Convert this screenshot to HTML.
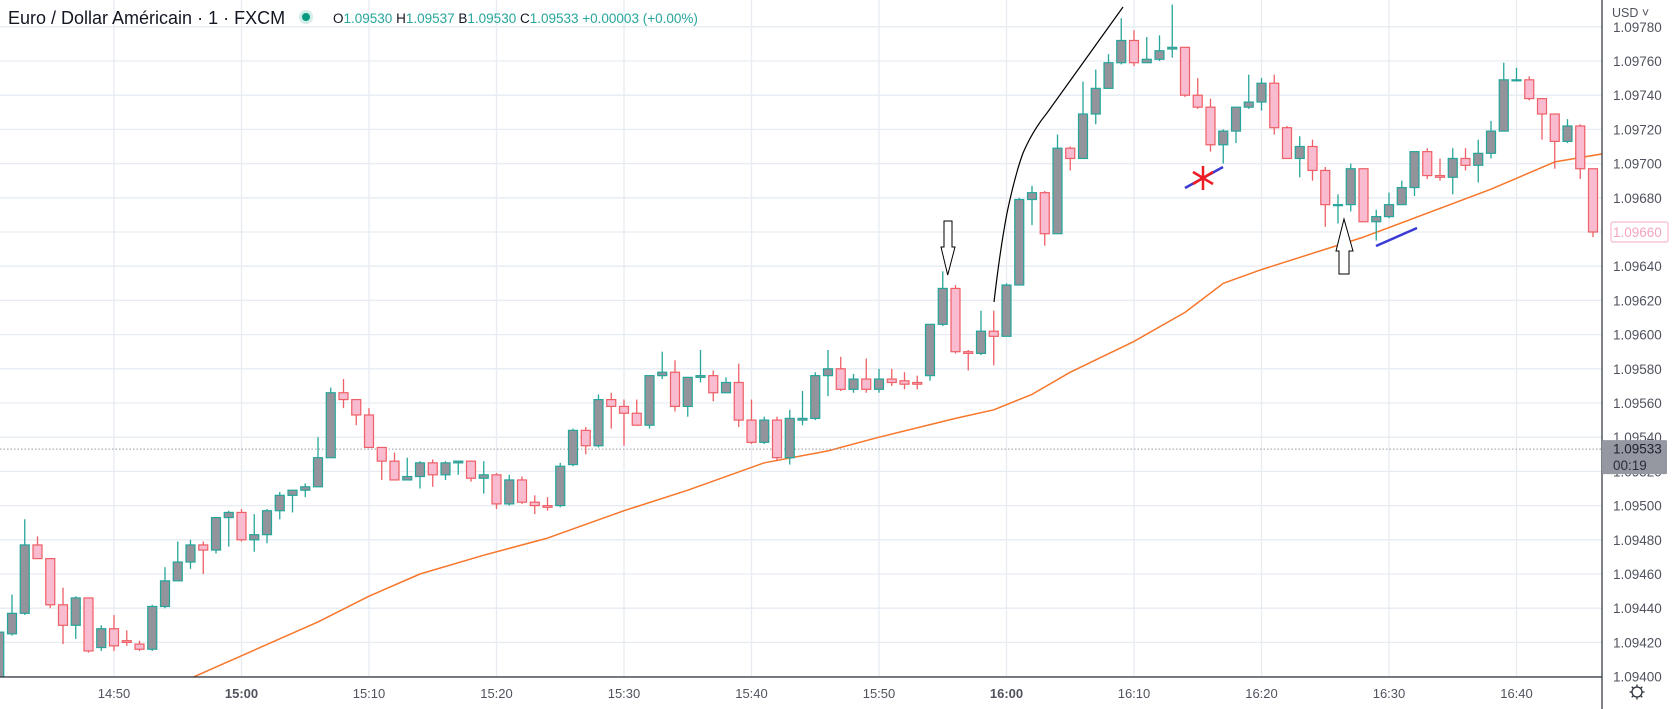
<!DOCTYPE html>
<html><head><meta charset="utf-8">
<style>
html,body{margin:0;padding:0;background:#fff;}
svg{display:block;font-family:"Liberation Sans",sans-serif;}
</style></head>
<body>
<svg id="chart" width="1673" height="709" viewBox="0 0 1673 709">
  <defs><clipPath id="plotClip"><rect x="0" y="0" width="1602" height="677"/></clipPath></defs>
  <rect x="0" y="0" width="1673" height="709" fill="#fff"/>
  <g id="grid"></g>
  <g id="plot" clip-path="url(#plotClip)"></g>
  <g id="annotations">
    <path d="M944,221 L952,221 L952,247 L955,247 L947.7,275 L941,247 L944,247 Z" fill="#fff" stroke="#000" stroke-width="1"/>
    <path d="M994,302 Q1000,250 1007,213 Q1015,175 1023,153 Q1033,130 1047,113 Q1062,92 1080,67 L1123,7" fill="none" stroke="#000" stroke-width="1.2"/>
    <path d="M1344,219 L1353,251 L1349,251 L1349,274 L1339,274 L1339,251 L1336,251 Z" fill="#fff" stroke="#000" stroke-width="1"/>
    <line x1="1185" y1="188" x2="1223" y2="167" stroke="#3b3bd6" stroke-width="2.5"/>
    <line x1="1376" y1="246" x2="1417" y2="228" stroke="#3b3bd6" stroke-width="2.5"/>
    <g stroke="#ee1c25" stroke-width="2.5">
      <line x1="1203" y1="166" x2="1203" y2="190"/>
      <line x1="1193" y1="172" x2="1213" y2="184"/>
      <line x1="1193" y1="184" x2="1213" y2="172"/>
    </g>
  </g>
  <g id="axes"></g>
  <g>
    <text x="8" y="24" font-size="18" fill="#131722">Euro / Dollar Américain · 1 · FXCM</text>
    <circle cx="306" cy="17" r="7" fill="rgba(8,153,129,0.18)"/>
    <circle cx="306" cy="17" r="4" fill="#089981"/>
    <text x="333" y="23" font-size="13.5" fill="#26a69a"><tspan fill="#131722">O</tspan>1.09530 <tspan fill="#131722">H</tspan>1.09537 <tspan fill="#131722">B</tspan>1.09530 <tspan fill="#131722">C</tspan>1.09533 +0.00003 (+0.00%)</text>
  </g>
</svg>
<script>
// ---- data (prices) ----
const firstMinute = -19; // 14:41 relative to 15:00
const openPrices  = [1.09395,1.09425,1.09437,1.09477,1.09469,1.09442,1.09430,1.09446,1.09417,1.09428,1.09421,1.09419,1.09416,1.09441,1.09456,1.09467,1.09477,1.09474,1.09493,1.09496,1.09480,1.09483,1.09497,1.09506,1.09509,1.09511,1.09528,1.09566,1.09562,1.09553,1.09534,1.09526,1.09515,1.09517,1.09525,1.09518,1.09525,1.09526,1.09516,1.09518,1.09501,1.09515,1.09502,1.09500,1.09500,1.09524,1.09544,1.09535,1.09562,1.09558,1.09554,1.09547,1.09576,1.09578,1.09558,1.09575,1.09576,1.09566,1.09572,1.09550,1.09537,1.09550,1.09528,1.09550,1.09551,1.09576,1.09580,1.09568,1.09574,1.09568,1.09574,1.09573,1.09572,1.09576,1.09606,1.09627,1.09590,1.09589,1.09602,1.09599,1.09629,1.09679,1.09683,1.09659,1.09709,1.09703,1.09729,1.09744,1.09759,1.09772,1.09759,1.09761,1.09767,1.09768,1.09740,1.09733,1.09711,1.09719,1.09733,1.09736,1.09747,1.09721,1.09703,1.09710,1.09696,1.09676,1.09676,1.09697,1.09666,1.09669,1.09676,1.09686,1.09707,1.09693,1.09692,1.09703,1.09699,1.09706,1.09719,1.09749,1.09749,1.09738,1.09729,1.09713,1.09722,1.09697];
const highPrices  = [1.09428,1.09448,1.09492,1.09482,1.09469,1.09452,1.09447,1.09446,1.09430,1.09436,1.09427,1.09421,1.09442,1.09464,1.09479,1.09480,1.09479,1.09493,1.09497,1.09498,1.09495,1.09498,1.09508,1.09509,1.09513,1.09540,1.09569,1.09574,1.09562,1.09557,1.09534,1.09531,1.09528,1.09526,1.09527,1.09526,1.09526,1.09526,1.09526,1.09519,1.09518,1.09517,1.09506,1.09505,1.09525,1.09545,1.09546,1.09565,1.09566,1.09562,1.09562,1.09576,1.09590,1.09585,1.09575,1.09591,1.09579,1.09575,1.09583,1.09562,1.09552,1.09552,1.09556,1.09567,1.09578,1.09591,1.09587,1.09577,1.09586,1.09580,1.09580,1.09578,1.09576,1.09606,1.09637,1.09629,1.09591,1.09614,1.09614,1.09630,1.09680,1.09687,1.09684,1.09717,1.09710,1.09748,1.09755,1.09764,1.09785,1.09778,1.09774,1.09775,1.09793,1.09768,1.09750,1.09738,1.09720,1.09733,1.09752,1.09750,1.09752,1.09722,1.09716,1.09714,1.09698,1.09682,1.09700,1.09697,1.09673,1.09683,1.09690,1.09707,1.09709,1.09703,1.09709,1.09709,1.09714,1.09725,1.09759,1.09756,1.09751,1.09738,1.09729,1.09726,1.09723,1.09697];
const lowPrices   = [1.09392,1.09424,1.09436,1.09469,1.09440,1.09419,1.09422,1.09414,1.09415,1.09415,1.09418,1.09415,1.09415,1.09440,1.09456,1.09463,1.09460,1.09472,1.09476,1.09479,1.09473,1.09478,1.09492,1.09496,1.09505,1.09511,1.09528,1.09557,1.09547,1.09534,1.09515,1.09515,1.09515,1.09510,1.09511,1.09515,1.09518,1.09514,1.09507,1.09498,1.09500,1.09501,1.09495,1.09497,1.09499,1.09523,1.09530,1.09534,1.09545,1.09535,1.09547,1.09545,1.09574,1.09555,1.09552,1.09572,1.09561,1.09566,1.09546,1.09536,1.09536,1.09526,1.09524,1.09547,1.09550,1.09564,1.09567,1.09566,1.09566,1.09566,1.09570,1.09568,1.09568,1.09573,1.09605,1.09589,1.09579,1.09588,1.09582,1.09599,1.09629,1.09664,1.09652,1.09659,1.09696,1.09703,1.09723,1.09744,1.09758,1.09757,1.09759,1.09760,1.09762,1.09739,1.09732,1.09707,1.09700,1.09712,1.09732,1.09731,1.09717,1.09703,1.09692,1.09690,1.09663,1.09665,1.09672,1.09666,1.09655,1.09668,1.09676,1.09681,1.09691,1.09690,1.09682,1.09696,1.09689,1.09703,1.09719,1.09748,1.09737,1.09714,1.09697,1.09712,1.09691,1.09657];
const closePrices = [1.09426,1.09437,1.09477,1.09469,1.09442,1.09430,1.09446,1.09415,1.09428,1.09418,1.09420,1.09416,1.09441,1.09456,1.09467,1.09477,1.09474,1.09493,1.09496,1.09480,1.09483,1.09497,1.09506,1.09509,1.09511,1.09528,1.09566,1.09562,1.09553,1.09534,1.09526,1.09515,1.09517,1.09525,1.09518,1.09525,1.09526,1.09516,1.09518,1.09501,1.09515,1.09502,1.09500,1.09499,1.09523,1.09544,1.09535,1.09562,1.09558,1.09554,1.09547,1.09576,1.09578,1.09558,1.09575,1.09576,1.09566,1.09572,1.09550,1.09537,1.09550,1.09528,1.09551,1.09551,1.09576,1.09580,1.09568,1.09574,1.09568,1.09574,1.09572,1.09571,1.09571,1.09606,1.09627,1.09590,1.09589,1.09602,1.09599,1.09629,1.09679,1.09683,1.09659,1.09709,1.09703,1.09729,1.09744,1.09759,1.09772,1.09759,1.09761,1.09766,1.09768,1.09740,1.09733,1.09711,1.09719,1.09733,1.09736,1.09747,1.09721,1.09703,1.09710,1.09696,1.09676,1.09676,1.09697,1.09666,1.09669,1.09676,1.09686,1.09707,1.09693,1.09692,1.09703,1.09699,1.09706,1.09719,1.09749,1.09749,1.09738,1.09729,1.09713,1.09722,1.09697,1.09660];
const emaMinutes = [-5,-4,6,10,14,19,24,30,35,41,46,50,56,59,62,65,70,74,77,80,88,98,103,107];
const emaValues  = [1.09395,1.09399,1.09432,1.09447,1.09460,1.09471,1.09481,1.09497,1.09509,1.09525,1.09532,1.09540,1.09551,1.09556,1.09565,1.09578,1.09596,1.09613,1.09630,1.09638,1.09657,1.09685,1.09701,1.09706];
const priceTicks = [1.0940,1.0942,1.0944,1.0946,1.0948,1.0950,1.0952,1.0954,1.0956,1.0958,1.0960,1.0962,1.0964,1.0966,1.0968,1.0970,1.0972,1.0974,1.0976,1.0978];
const timeTickMinutes = [-10,0,10,20,30,40,50,60,70,80,90,100];
const timeTickLabels = ["14:50","15:00","15:10","15:20","15:30","15:40","15:50","16:00","16:10","16:20","16:30","16:40"];
const boldTimeLabels = ["15:00","16:00"];
const lastPrice = 1.09533;
const lastCandleClose = 1.09660;

// ---- scales ----
const NS = "http://www.w3.org/2000/svg";
function yScale(p){ return 61 + (1.0976 - p) * 171000; }
function xScale(m){ return 241.5 + m * 12.75; }
function mk(tag, attrs, parent){ const e=document.createElementNS(NS,tag); for(const k in attrs) e.setAttribute(k,attrs[k]); parent.appendChild(e); return e; }

const grid = document.getElementById('grid');
const plot = document.getElementById('plot');
const axes = document.getElementById('axes');

priceTicks.forEach(p=>{
  const y=yScale(p);
  const l=mk('line',{x1:0,x2:1602,y1:y,y2:y,stroke:'#e6ecf2','stroke-width':1.3},grid);
  
  
});
timeTickMinutes.forEach(m=>{
  const x=xScale(m);
  const l=mk('line',{x1:x,x2:x,y1:0,y2:677,stroke:'#e6ecf2','stroke-width':1.3},grid);
  
  
});

// EMA
let d='';
emaMinutes.forEach((m,i)=>{ d += (i?'L':'M') + xScale(m).toFixed(1) + ',' + yScale(emaValues[i]).toFixed(1); });
const ema = mk('path',{d:d,fill:'none',stroke:'#f7762a','stroke-width':1.5,'stroke-linejoin':'round'},plot);



// current price dotted line
const pl = mk('line',{x1:0,x2:1602,y1:yScale(lastPrice),y2:yScale(lastPrice),stroke:'#9598a1','stroke-width':1,'stroke-dasharray':'1.5 2'},plot);



// candles
openPrices.forEach((o,i)=>{
  const c=closePrices[i], h=highPrices[i], l=lowPrices[i];
  const x=xScale(firstMinute+i);
  const up=c>=o;
  const stroke=up?'#26a69a':'#ef5f66';
  const fill=up?'#92939b':'#f8bbd0';
  const g=mk('g',{},plot);
  
  
  const w=mk('line',{x1:x,x2:x,y1:yScale(h),y2:yScale(l),stroke:stroke,'stroke-width':1.3},g);
  
  
  const top=yScale(Math.max(o,c)), bot=yScale(Math.min(o,c));
  const b=mk('rect',{x:x-4.5,y:top,width:9,height:Math.max(1,bot-top),fill:fill,stroke:stroke,'stroke-width':1.2},g);
  
  
});

// axes
mk('rect',{x:1602,y:0,width:71,height:709,fill:'#fff'},axes);
mk('rect',{x:0,y:677,width:1602,height:32,fill:'#fff'},axes);
const al=mk('line',{x1:1602,x2:1602,y1:0,y2:709,stroke:'#2a2e39','stroke-width':1.2},axes);


const bl=mk('line',{x1:0,x2:1602,y1:677,y2:677,stroke:'#2a2e39','stroke-width':1.2},axes);



priceTicks.forEach(p=>{
  const t=mk('text',{x:1613,y:yScale(p)+5,'font-size':13.5,fill:'#50535e'},axes);
  t.textContent=p.toFixed(5);
  
  
});
timeTickMinutes.forEach((m,i)=>{
  const lab=timeTickLabels[i];
  const t=mk('text',{x:xScale(m),y:698,'font-size':13,'text-anchor':'middle',fill:'#50535e','font-weight':boldTimeLabels.includes(lab)?'bold':'normal'},axes);
  t.textContent=lab;
  
  
});

// last candle price label (pink)
const ly=yScale(lastCandleClose);
const pb=mk('rect',{x:1611,y:ly-10,width:57,height:20,fill:'#fff',stroke:'#f8bbd0','stroke-width':1.2,rx:2},axes);


const pt=mk('text',{x:1613,y:ly+5,'font-size':13.5,fill:'#f4a5bd'},axes);
pt.textContent=lastCandleClose.toFixed(5);



// current price box
const cy=yScale(lastPrice);
const cb=mk('rect',{x:1602,y:cy-9,width:65,height:34,fill:'#9598a1',rx:1},axes);


const ct=mk('text',{x:1613,y:cy+4.5,'font-size':13.5,fill:'#1e222d'},axes);
ct.textContent=lastPrice.toFixed(5);


const cd=mk('text',{x:1613,y:cy+21,'font-size':13.5,fill:'#2a2e39'},axes);
cd.textContent='00:19';



// currency selector
mk('rect',{x:1603,y:0,width:70,height:22,fill:'#fff'},axes);
const usd=mk('text',{x:1612,y:17,'font-size':12.5,fill:'#50535e'},axes);
usd.textContent='USD ˅';



// settings gear
const gear=mk('g',{stroke:'#2a2e39','stroke-width':1.3,fill:'none'},axes);


mk('circle',{cx:1637,cy:692,r:5},gear);
for(let k=0;k<8;k++){const a=k*Math.PI/4;mk('line',{x1:1637+5*Math.cos(a),y1:692+5*Math.sin(a),x2:1637+7.5*Math.cos(a),y2:692+7.5*Math.sin(a)},gear);}
</script>
</body></html>
